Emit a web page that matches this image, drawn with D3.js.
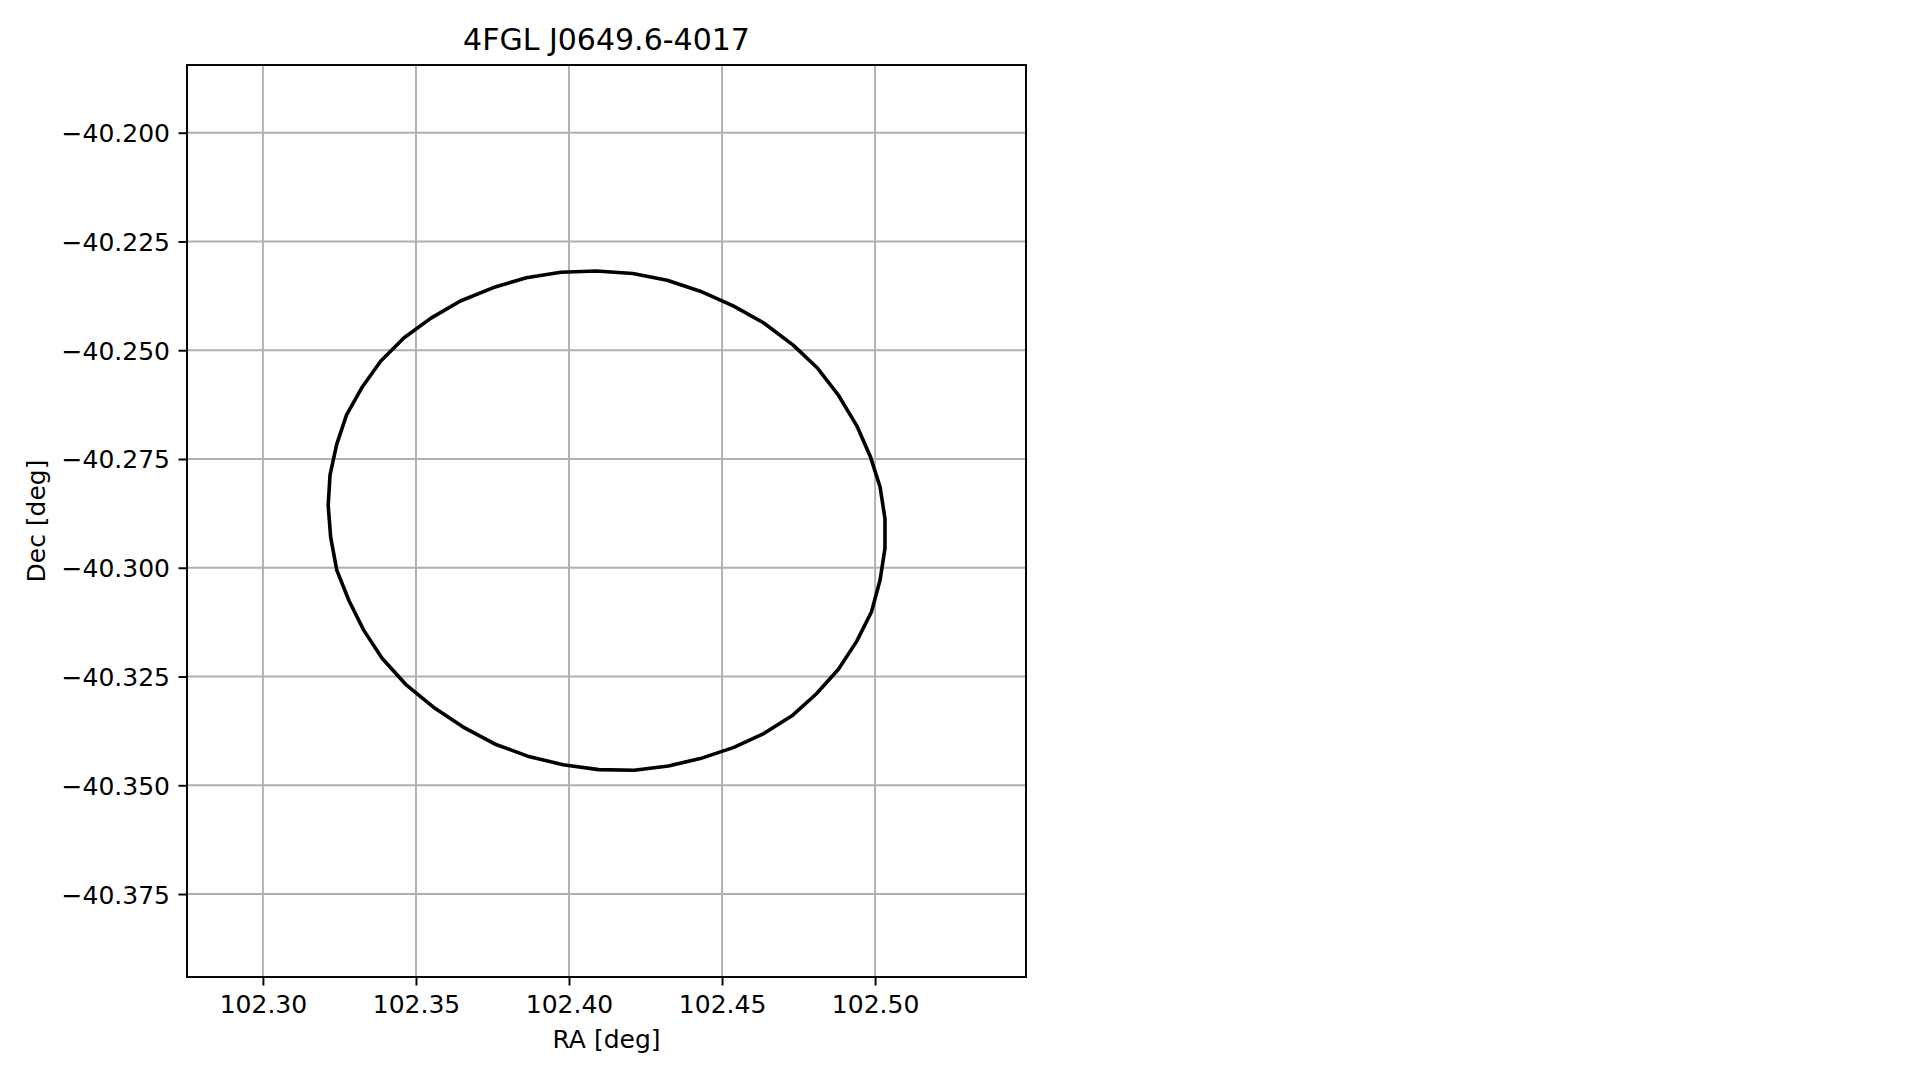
<!DOCTYPE html>
<html>
<head>
<meta charset="utf-8">
<script src="https://cdn.jsdelivr.net/npm/d3@7"></script>
<style>
  html, body { margin: 0; padding: 0; background: #fff; }
  svg { display: block; }
  text { font-family: "DejaVu Sans", sans-serif; fill: #000; }
</style>
</head>
<body>
<svg id="chart" width="1919" height="1080"></svg>
<script>
// ---- data ----
const title = "4FGL J0649.6-4017";
const xLabel = "RA [deg]";
const yLabel = "Dec [deg]";
const xDomain = [102.2752, 102.5493];
const yDomain = [-40.39407, -40.18444];
const xTicks = [102.30, 102.35, 102.40, 102.45, 102.50];
const yTicks = [-40.375, -40.350, -40.325, -40.300, -40.275, -40.250, -40.225, -40.200];
// ellipse outline vertices (RA, Dec)
const ellipseRA = [
  102.40888, 102.42087, 102.43207, 102.44286, 102.45365, 102.46365, 102.47324, 102.48124,
  102.48803, 102.49403, 102.49843, 102.50163, 102.50323, 102.50323, 102.50163, 102.49883,
  102.49403, 102.48803, 102.48084, 102.47284, 102.46325, 102.45365, 102.44286, 102.43247,
  102.42127, 102.40968, 102.39809, 102.38649, 102.37570, 102.36531, 102.35571, 102.34692,
  102.33892, 102.33292, 102.32813, 102.32413, 102.32213, 102.32133, 102.32193, 102.32413,
  102.32733, 102.33252, 102.33852, 102.34612, 102.35491, 102.36451, 102.37530, 102.38609,
  102.39729
];
const ellipseDec = [
  -40.23180, -40.23236, -40.23391, -40.23644, -40.23982, -40.24375, -40.24882, -40.25416,
  -40.26035, -40.26738, -40.27441, -40.28144, -40.28875, -40.29550, -40.30281, -40.31012,
  -40.31687, -40.32334, -40.32897, -40.33403, -40.33825, -40.34134, -40.34387, -40.34556,
  -40.34654, -40.34640, -40.34528, -40.34331, -40.34050, -40.33656, -40.33206, -40.32700,
  -40.32081, -40.31434, -40.30759, -40.30056, -40.29297, -40.28566, -40.27863, -40.27159,
  -40.26485, -40.25838, -40.25247, -40.24713, -40.24263, -40.23869, -40.23560, -40.23335,
  -40.23208
];

// ---- layout ----
const L = 187, R = 1026, T = 65, B = 977;
const tickFont = 25, titleFont = 30;
const tickLen = 8.5, pad = 8.5;
const lw = 1.94;

const svg = d3.select("#chart");
svg.append("rect").attr("width", 1919).attr("height", 1080).attr("fill", "#fff");

const x = d3.scaleLinear().domain(xDomain).range([L, R]);
const y = d3.scaleLinear().domain(yDomain).range([B, T]);

const fmtX = d => d.toFixed(2);
const fmtY = d => (d < 0 ? "\u2212" : "") + Math.abs(d).toFixed(3);

// grid
const grid = svg.append("g");
grid.selectAll("line.gx").data(xTicks).enter().append("line")
  .attr("x1", d => x(d)).attr("x2", d => x(d)).attr("y1", T).attr("y2", B)
  .attr("stroke", "#b0b0b0").attr("stroke-width", lw);
grid.selectAll("line.gy").data(yTicks).enter().append("line")
  .attr("y1", d => y(d)).attr("y2", d => y(d)).attr("x1", L).attr("x2", R)
  .attr("stroke", "#b0b0b0").attr("stroke-width", lw);

// ellipse
const pts = ellipseRA.map((ra, i) => [ra, ellipseDec[i]]);
const line = d3.line().x(d => x(d[0])).y(d => y(d[1])).curve(d3.curveLinearClosed);
svg.append("path").datum(pts).attr("d", line)
  .attr("fill", "none").attr("stroke", "#000").attr("stroke-width", 3.6)
  .attr("stroke-linejoin", "round");

// axes using d3 axis
const xAxis = d3.axisBottom(x).tickValues(xTicks).tickFormat(fmtX)
  .tickSizeInner(tickLen).tickSizeOuter(0).tickPadding(pad);
const gx = svg.append("g").attr("transform", `translate(0,${B})`).call(xAxis);
gx.select(".domain").remove();
gx.selectAll(".tick line").attr("stroke", "#000").attr("stroke-width", lw);
gx.selectAll(".tick text").attr("font-size", tickFont).attr("font-family", "DejaVu Sans")
  .attr("fill", "#000").attr("dy", "0.76em");

const yAxis = d3.axisLeft(y).tickValues(yTicks).tickFormat(fmtY)
  .tickSizeInner(tickLen).tickSizeOuter(0).tickPadding(pad);
const gy = svg.append("g").attr("transform", `translate(${L},0)`).call(yAxis);
gy.select(".domain").remove();
gy.selectAll(".tick line").attr("stroke", "#000").attr("stroke-width", lw);
gy.selectAll(".tick text").attr("font-size", tickFont).attr("font-family", "DejaVu Sans")
  .attr("fill", "#000").attr("dy", "0.36em");

// frame
svg.append("rect").attr("x", L).attr("y", T).attr("width", R - L).attr("height", B - T)
  .attr("fill", "none").attr("stroke", "#000").attr("stroke-width", lw);

// labels
svg.append("text").attr("x", (L + R) / 2).attr("y", 1048).attr("text-anchor", "middle")
  .attr("font-size", tickFont).text(xLabel);
svg.append("text").attr("transform", `translate(45,${(T + B) / 2}) rotate(-90)`)
  .attr("text-anchor", "middle").attr("font-size", tickFont).text(yLabel);
svg.append("text").attr("x", (L + R) / 2).attr("y", 50).attr("text-anchor", "middle")
  .attr("font-size", titleFont).text(title);
</script>
</body>
</html>
